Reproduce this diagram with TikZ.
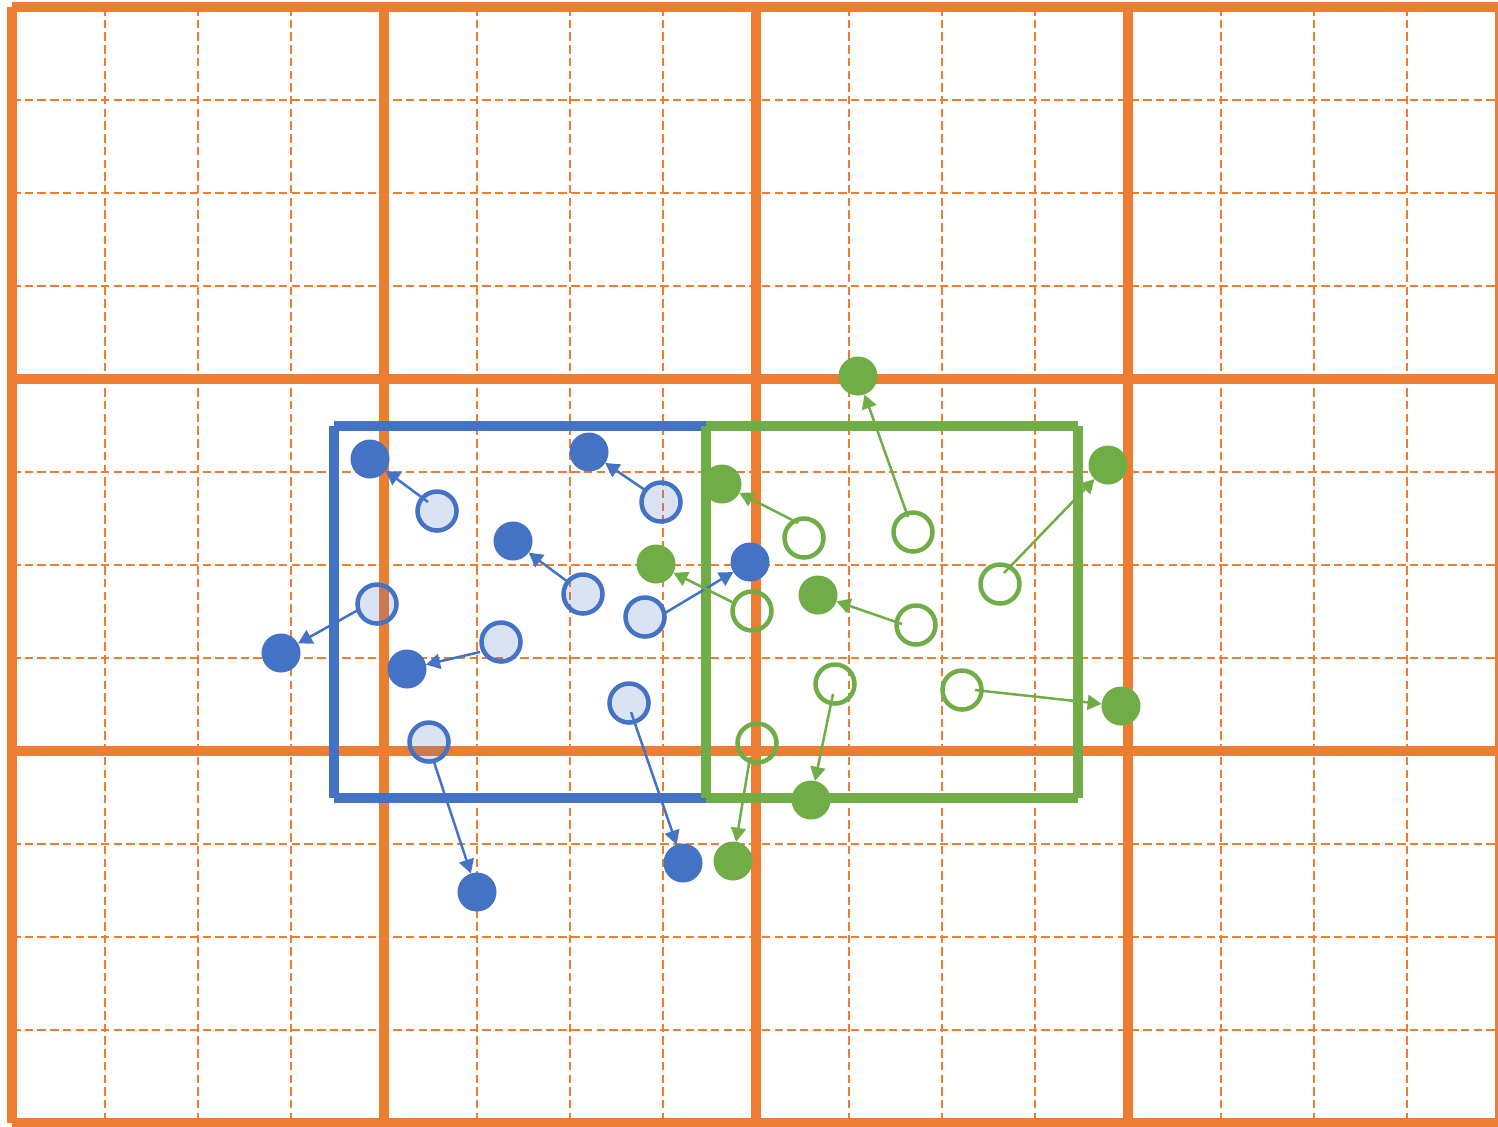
\documentclass[tikz,border=0pt]{standalone}
\usetikzlibrary{arrows.meta}
\definecolor{corange}{HTML}{ED7D31}
\definecolor{cblue}{HTML}{4472C4}
\definecolor{cgreen}{HTML}{70AD47}
\begin{document}
\begin{tikzpicture}[x=0.01cm,y=-0.01cm,
  finegrid/.style={draw=corange, line width=0.02cm, dash pattern=on 0.085cm off 0.042cm},
  heavygrid/.style={draw=corange, line width=0.1cm},
  frameline/.style={line width=0.1cm},
  dotbase/.style={circle, minimum size=0.39cm, inner sep=0pt, outer sep=0pt},
  bfill/.style={dotbase, fill=cblue},
  bhol/.style={dotbase, draw=cblue, fill=cblue, fill opacity=0.2, line width=0.045cm},
  gfill/.style={dotbase, fill=cgreen},
  ghol/.style={dotbase, draw=cgreen, line width=0.045cm},
  arrbase/.style={line width=0.025cm, -{Triangle[length=0.14cm,width=0.15cm]}},
  barr/.style={arrbase, draw=cblue, fill=cblue},
  garr/.style={arrbase, draw=cgreen, fill=cgreen}]
\useasboundingbox (0,0) rectangle (1498,1126);
\clip (0,0) rectangle (1498,1126);
% fine dashed grid
\foreach \i in {1,2,3,5,6,7,9,10,11,13,14,15}
  \draw[finegrid] ({12+93*\i},7) -- ({12+93*\i},1123);
\foreach \j in {1,2,3,5,6,7,9,10,11}
  \draw[finegrid] (12,{7+93*\j}) -- (1500,{7+93*\j});
% heavy grid
\foreach \i in {0,...,4}
  \draw[heavygrid] ({12+372*\i},7) -- ({12+372*\i},1123);
\foreach \j in {0,...,3}
  \draw[heavygrid] (12,{7+372*\j}) -- (1500,{7+372*\j});
% blue frame
\coordinate (ba) at (334,426);
\coordinate (bb) at (706,426);
\coordinate (bc) at (706,798);
\coordinate (bd) at (334,798);
\draw[frameline, cblue] (ba) -- (bb) (bb) -- (bc) (bc) -- (bd) (bd) -- (ba);
% green frame
\coordinate (ga) at (706,426);
\coordinate (gb) at (1078,426);
\coordinate (gc) at (1078,798);
\coordinate (gd) at (706,798);
\draw[frameline, cgreen] (ga) -- (gb) (gb) -- (gc) (gc) -- (gd) (gd) -- (ga);
% blue points
\node[bfill] (bf1) at (370,459) {};
\node[bfill] (bf2) at (589,452) {};
\node[bfill] (bf3) at (513,541) {};
\node[bfill] (bf4) at (281,653) {};
\node[bfill] (bf5) at (407,669) {};
\node[bfill] (bf6) at (750,562) {};
\node[bfill] (bf7) at (683,863) {};
\node[bfill] (bf8) at (477,892) {};
\node[bhol] (bh1) at (437,511) {};
\node[bhol] (bh2) at (661,502) {};
\node[bhol] (bh3) at (583,594) {};
\node[bhol] (bh4) at (377,604) {};
\node[bhol] (bh5) at (501,642) {};
\node[bhol] (bh6) at (645,617) {};
\node[bhol] (bh7) at (629,703) {};
\node[bhol] (bh8) at (429,742) {};
% green points
\node[gfill] (gf1) at (722,484) {};
\node[gfill] (gf2) at (858,376) {};
\node[gfill] (gf3) at (1108,465) {};
\node[gfill] (gf4) at (656,564) {};
\node[gfill] (gf5) at (818,595) {};
\node[gfill] (gf6) at (811,800) {};
\node[gfill] (gf7) at (1121,706) {};
\node[gfill] (gf8) at (733,861) {};
\node[ghol] (gh1) at (804,538) {};
\node[ghol] (gh2) at (913,532) {};
\node[ghol] (gh3) at (1000,584) {};
\node[ghol] (gh4) at (752,611) {};
\node[ghol] (gh5) at (916,625) {};
\node[ghol] (gh6) at (835,684) {};
\node[ghol] (gh7) at (962,690) {};
\node[ghol] (gh8) at (757,743) {};
% blue arrows
\draw[barr] ([shift={(-9,-9)}]bh1.center) -- (bf1);
\draw[barr] ([shift={(-16,-12)}]bh2.center) -- (bf2);
\draw[barr] ([shift={(-15,-12)}]bh3.center) -- (bf3);
\draw[barr] ([shift={(-19,6)}]bh4.center) -- (bf4);
\draw[barr] ([shift={(-21,10)}]bh5.center) -- (bf5);
\draw[barr] ([shift={(20,-4)}]bh6.center) -- (bf6);
\draw[barr] ([shift={(2,9)}]bh7.center) -- (bf7);
\draw[barr] ([shift={(5,20)}]bh8.center) -- (bf8);
% green arrows
\draw[garr] ([shift={(-6,-15)}]gh1.center) -- (gf1);
\draw[garr] ([shift={(-5,-15)}]gh2.center) -- (gf2);
\draw[garr] ([shift={(4,-11)}]gh3.center) -- (gf3);
\draw[garr] ([shift={(-20,-9)}]gh4.center) -- (gf4);
\draw[garr] ([shift={(-14,-1)}]gh5.center) -- (gf5);
\draw[garr] ([shift={(-2,10)}]gh6.center) -- (gf6);
\draw[garr] ([shift={(13,0)}]gh7.center) -- (gf7);
\draw[garr] ([shift={(-7,14)}]gh8.center) -- (gf8);
\end{tikzpicture}
\end{document}
